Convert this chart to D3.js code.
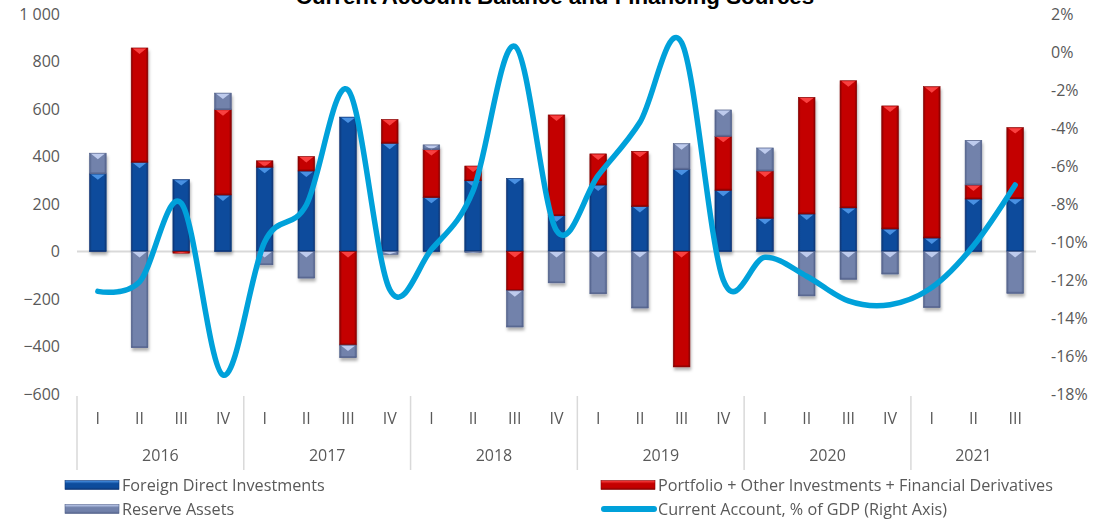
<!DOCTYPE html>
<html>
<head>
<meta charset="utf-8">
<script src="https://cdn.jsdelivr.net/npm/d3@7"></script>
<style>
  body { margin: 0; background: #fff; }
  svg { display: block; font-family: "Open Sans", sans-serif; }
</style>
</head>
<body>
<div id="chart"></div>
<script>
// Periods (year / quarter)
const years = ['2016', '2017', '2018', '2019', '2020', '2021'];
const periodYears = ['2016','2016','2016','2016','2017','2017','2017','2017','2018','2018','2018','2018',
                     '2019','2019','2019','2019','2020','2020','2020','2020','2021','2021','2021'];
const periodQuarters = ['I','II','III','IV','I','II','III','IV','I','II','III','IV',
                        'I','II','III','IV','I','II','III','IV','I','II','III'];

// Financing sources (left axis)
const fdi = [327, 376, 303, 238, 355, 339, 566, 456, 228, 298, 308, 151,
             280, 190, 346, 258, 140, 158, 184, 95, 57, 221, 223];
const portfolio = [0, 481, -7, 359, 27, 61, -394, 100, 201, 62, -165, 424,
                   131, 232, -486, 227, 199, 491, 535, 518, 637, 59, 299];
const reserves = [87, -405, 0, 70, -56, -112, -53, -12, 20, -4, -153, -132,
                  -178, -238, 108, 111, 97, -187, -117, -95, -236, 188, -176];

// Current account, % of GDP (right axis)
const currentAccount = [-12.6, -12.1, -7.95, -17.0, -10.0, -8.05, -2.0, -12.5, -10.4, -7.3, 0.3, -9.4,
                        -6.5, -3.7, 0.5, -12.0, -10.8, -11.8, -13.1, -13.3, -12.4, -10.2, -7.0];
// dotted zero reference (right axis)
const zeroRef = [null, null, null, null, null, null, null, null, 0, 0, 0, 0,
                 0, 0, 0, 0, 0, 0, 0, 0, 0, 0, 0];

const leftTicks = [-600, -400, -200, 0, 200, 400, 600, 800, 1000];
const rightTicks = [-18, -16, -14, -12, -10, -8, -6, -4, -2, 0, 2];

const width = 1093, height = 521;
const plot = { left: 77, right: 1036, top: 14, bottom: 394 };

const svg = d3.select('#chart').append('svg')
    .attr('width', width)
    .attr('height', height);

const defs = svg.append('defs');

// bar styles: edge, body, highlight triangle
const styles = {
    fdi:       { edge: '#0a3576', body: '#0d4c9c', light: '#4f98ea' },
    portfolio: { edge: '#850000', body: '#c40000', light: '#ff4747' },
    reserves:  { edge: '#52618a', body: '#7282ab', light: '#c6d3f4' }
};

Object.entries(styles).forEach(([key, s]) => {
    const g = defs.append('linearGradient').attr('id', 'grad-' + key)
        .attr('x1', 0).attr('x2', 1).attr('y1', 0).attr('y2', 0);
    g.append('stop').attr('offset', '0%').attr('stop-color', s.edge);
    g.append('stop').attr('offset', '14%').attr('stop-color', s.body);
    g.append('stop').attr('offset', '86%').attr('stop-color', s.body);
    g.append('stop').attr('offset', '100%').attr('stop-color', s.edge);

    const gl = defs.append('linearGradient').attr('id', 'lgrad-' + key)
        .attr('x1', 0).attr('x2', 0).attr('y1', 0).attr('y2', 1);
    gl.append('stop').attr('offset', '0%').attr('stop-color', s.light);
    gl.append('stop').attr('offset', '35%').attr('stop-color', s.body);
    gl.append('stop').attr('offset', '75%').attr('stop-color', s.body);
    gl.append('stop').attr('offset', '100%').attr('stop-color', s.edge);
});

const shadow = defs.append('filter').attr('id', 'shadow')
    .attr('x', '-30%').attr('y', '-10%').attr('width', '160%').attr('height', '130%');
shadow.append('feDropShadow')
    .attr('dx', 1).attr('dy', 3).attr('stdDeviation', 1.6)
    .attr('flood-color', '#000').attr('flood-opacity', 0.3);

const dotShadow = defs.append('filter').attr('id', 'dotshadow')
    .attr('x', '-5%').attr('y', '-100%').attr('width', '110%').attr('height', '400%');
dotShadow.append('feDropShadow')
    .attr('dx', 0).attr('dy', 5).attr('stdDeviation', 2)
    .attr('flood-color', '#000').attr('flood-opacity', 0.25);

// Scales
const labels = periodYears.map((y, i) => y + ' ' + periodQuarters[i]);
const x = d3.scaleBand()
    .domain(labels)
    .range([plot.left, plot.right])
    .paddingInner(0.6)
    .paddingOuter(0.3);
const xStep = x.step();
const xCenter = i => x(labels[i]) + x.bandwidth() / 2;

const yLeft = d3.scaleLinear().domain([-600, 1000]).range([plot.bottom, plot.top]);
const yRight = d3.scaleLinear().domain([-18, 2]).range([plot.bottom, plot.top]);

// Title (partly cut off at the top, as in the source image)
svg.append('text')
    .attr('x', 555)
    .attr('y', 4)
    .attr('text-anchor', 'middle')
    .style('font-family', '"Liberation Sans", Arial, sans-serif')
    .style('font-weight', 'bold')
    .style('font-size', '22.3px')
    .attr('fill', '#000')
    .text('Current Account Balance and Financing Sources');

// Zero gridline
svg.append('line')
    .attr('x1', plot.left).attr('x2', plot.right)
    .attr('y1', yLeft(0)).attr('y2', yLeft(0))
    .attr('stroke', '#d9d9d9').attr('stroke-width', 2);

// Left axis labels
const yAxisL = d3.axisLeft(yLeft).tickValues(leftTicks).tickSize(0).tickPadding(0)
    .tickFormat(d => d3.format(',')(d).replace(',', ' '));
svg.append('g')
    .attr('transform', 'translate(60,0)')
    .call(yAxisL)
    .call(g => g.select('.domain').remove())
    .selectAll('text')
    .style('font-family', '"Open Sans", sans-serif')
    .style('font-size', '16px')
    .attr('fill', '#595959');

// Right axis labels
const yAxisR = d3.axisRight(yRight).tickValues(rightTicks).tickSize(0).tickPadding(0)
    .tickFormat(d => d + '%');
svg.append('g')
    .attr('transform', 'translate(1051,0)')
    .call(yAxisR)
    .call(g => g.select('.domain').remove())
    .selectAll('text')
    .style('font-family', '"Open Sans", sans-serif')
    .style('font-size', '16px')
    .attr('fill', '#595959');

// Stacked bars
const rows = labels.map((l, i) => ({ fdi: fdi[i], portfolio: portfolio[i], reserves: reserves[i] }));
const stacked = d3.stack()
    .keys(['fdi', 'portfolio', 'reserves'])
    .offset(d3.stackOffsetDiverging)(rows);

const barsG = svg.append('g').attr('filter', 'url(#shadow)');
stacked.forEach(layer => {
    const key = layer.key;
    layer.forEach((d, i) => {
        const top = yLeft(Math.max(d[0], d[1]));
        const bottom = yLeft(Math.min(d[0], d[1]));
        const h = bottom - top;
        if (h < 0.8) return;
        const bx = x(labels[i]);
        const bw = x.bandwidth();
        barsG.append('rect')
            .attr('x', bx).attr('y', top)
            .attr('width', bw).attr('height', h)
            .attr('fill', `url(#grad-${key})`)
            .attr('stroke', styles[key].edge)
            .attr('stroke-width', 0.6);
        // bevel highlight triangle at the top of each segment
        const depth = Math.min(6, h);
        barsG.append('polygon')
            .attr('points', [[bx + 1.5, top + 0.6], [bx + bw - 1.5, top + 0.6], [bx + bw / 2, top + depth]]
                .map(p => p.join(',')).join(' '))
            .attr('fill', styles[key].light)
            .attr('opacity', 0.9);
        // lower bevel edge
        if (h > 4) {
            barsG.append('rect')
                .attr('x', bx).attr('y', bottom - 1.5)
                .attr('width', bw).attr('height', 1.5)
                .attr('fill', styles[key].edge)
                .attr('opacity', 0.7);
        }
    });
});

// Dotted zero reference line
const refLine = d3.line()
    .defined(d => d !== null)
    .x((d, i) => xCenter(i))
    .y(d => yRight(d));
svg.append('path')
    .datum(zeroRef)
    .attr('d', refLine)
    .attr('fill', 'none')
    .attr('stroke', '#7585b6')
    .attr('stroke-width', 6)
    .attr('stroke-linecap', 'round')
    .attr('stroke-dasharray', '0 14.6')
    .attr('filter', 'url(#dotshadow)');

// Current account line
const caLine = d3.line()
    .x((d, i) => xCenter(i))
    .y(d => yRight(d))
    .curve(d3.curveCatmullRom.alpha(0));
svg.append('path')
    .datum(currentAccount)
    .attr('d', caLine)
    .attr('fill', 'none')
    .attr('stroke', '#00a1da')
    .attr('stroke-width', 5.5)
    .attr('stroke-linejoin', 'round')
    .attr('stroke-linecap', 'round');

// Category axis: quarters, years and dividers
const axisG = svg.append('g');
labels.forEach((l, i) => {
    axisG.append('text')
        .attr('x', xCenter(i))
        .attr('y', 418)
        .attr('dy', '0.35em')
        .attr('text-anchor', 'middle')
        .style('font-size', '16px')
        .attr('fill', '#595959')
        .text(periodQuarters[i]);
});
years.forEach(yr => {
    const idx = periodYears.map((p, i) => p === yr ? i : -1).filter(i => i >= 0);
    const x0 = plot.left + idx[0] * xStep;
    const x1 = plot.left + (idx[idx.length - 1] + 1) * xStep;
    axisG.append('line')
        .attr('x1', x0).attr('x2', x0)
        .attr('y1', 396).attr('y2', 470)
        .attr('stroke', '#d9d9d9').attr('stroke-width', 1.5);
    axisG.append('text')
        .attr('x', (x0 + x1) / 2)
        .attr('y', 455)
        .attr('dy', '0.35em')
        .attr('text-anchor', 'middle')
        .style('font-size', '16px')
        .attr('fill', '#595959')
        .text(yr);
});

// Legend
const legendItems = [
    { label: 'Foreign Direct Investments', key: 'fdi', type: 'bar', x: 65, y: 485 },
    { label: 'Portfolio + Other Investments + Financial Derivatives', key: 'portfolio', type: 'bar', x: 601, y: 485 },
    { label: 'Reserve Assets', key: 'reserves', type: 'bar', x: 65, y: 509 },
    { label: 'Current Account, % of GDP (Right Axis)', key: 'ca', type: 'line', x: 601, y: 509 }
];
const legend = svg.append('g');
legendItems.forEach(item => {
    if (item.type === 'bar') {
        legend.append('rect')
            .attr('x', item.x).attr('y', item.y - 4.5)
            .attr('width', 54).attr('height', 9)
            .attr('fill', `url(#lgrad-${item.key})`)
            .attr('stroke', styles[item.key].edge)
            .attr('stroke-width', 0.6);
    } else {
        legend.append('line')
            .attr('x1', item.x + 3).attr('x2', item.x + 53)
            .attr('y1', item.y).attr('y2', item.y)
            .attr('stroke', '#00a1da')
            .attr('stroke-width', 6)
            .attr('stroke-linecap', 'round');
    }
    legend.append('text')
        .attr('x', item.x + 57)
        .attr('y', item.y)
        .attr('dy', '0.35em')
        .style('font-size', '16.2px')
        .attr('fill', '#595959')
        .text(item.label);
});
</script>
</body>
</html>
